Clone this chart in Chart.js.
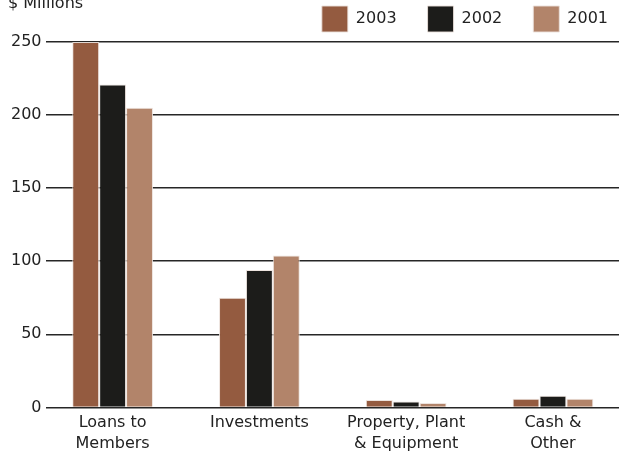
<!DOCTYPE html>
<html>
<head>
<meta charset="utf-8">
<script src="https://cdn.jsdelivr.net/npm/chart.js@4/dist/chart.umd.min.js"></script>
<style>
    html, body { margin: 0; padding: 0; background: #fff; overflow: hidden; }
    #wrap { position: relative; width: 619px; height: 453px; }
    #unit { position: absolute; left: 8px; top: -7px; font: 16px "DejaVu Sans", sans-serif; color: #222; }
</style>
</head>
<body>
<div id="wrap">
    <canvas id="chart" width="619" height="453"></canvas>
    <div id="unit">$ Millions</div>
</div>
<script>
// --- Data ---
const categories = [['Loans to', 'Members'], 'Investments', ['Property, Plant', '& Equipment'], ['Cash &', 'Other']];
const years = ['2003', '2002', '2001'];
const values2003 = [250, 75, 5, 6];
const values2002 = [221, 94, 4, 8];
const values2001 = [205, 104, 3, 6];
const yTicks = [0, 50, 100, 150, 200, 250];

const colors = ['#945b40', '#1c1c1a', '#b2846a'];
const seriesValues = [values2003, values2002, values2001];

const datasets = years.map((year, i) => ({
    label: year,
    data: seriesValues[i].map((v, idx) => ({ x: idx, y: v })),
    backgroundColor: colors[i],
    borderColor: 'rgba(235, 225, 220, 0.9)',
    borderWidth: 1,
    barPercentage: 1,
    categoryPercentage: 0.55
}));

new Chart(document.getElementById('chart'), {
    type: 'bar',
    data: { datasets: datasets },
    options: {
        responsive: false,
        animation: false,
        // negative padding pulls the legend up and lets it sit closer to the right edge
        layout: { padding: { left: 7, right: -20, top: -25, bottom: 2 } },
        plugins: {
            legend: {
                position: 'top',
                align: 'end',
                labels: {
                    boxWidth: 26,
                    boxHeight: 26,
                    padding: 31,
                    color: '#222',
                    font: { family: 'DejaVu Sans', size: 16 }
                }
            },
            tooltip: { enabled: false }
        },
        scales: {
            x: {
                type: 'linear',
                offset: false,
                min: -0.457,
                max: 3.45,
                grid: { display: false },
                border: { display: false },
                ticks: {
                    stepSize: 1,
                    includeBounds: false,
                    autoSkip: false,
                    maxRotation: 0,
                    padding: -3,
                    color: '#222',
                    font: { family: 'DejaVu Sans', size: 16, lineHeight: 1.3 },
                    callback: (v) => Number.isInteger(v) ? categories[v] : ''
                }
            },
            y: {
                min: 0,
                max: 250,
                afterBuildTicks: (axis) => { axis.ticks = yTicks.map(v => ({ value: v })); },
                grid: { color: '#262626', lineWidth: 1.5, drawTicks: false },
                border: { display: false },
                ticks: {
                    padding: 4,
                    color: '#222',
                    font: { family: 'DejaVu Sans', size: 16 }
                }
            }
        }
    }
});
</script>
</body>
</html>
